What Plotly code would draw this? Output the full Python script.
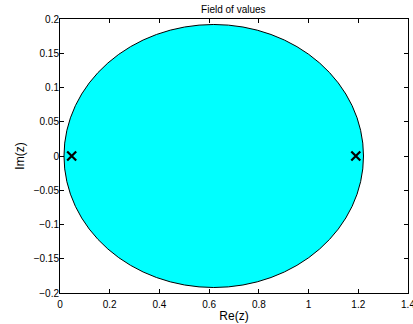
import plotly.graph_objects as go

# eigenvalues (marked with x)
eig_re = [0.047, 1.19]
eig_im = [0, 0]

# field of values boundary extents (ellipse)
fov_re = [0.016, 1.221]
fov_im = [-0.192, 0.192]

x_ticks = [0, 0.2, 0.4, 0.6, 0.8, 1, 1.2, 1.4]
x_labels = ["0", "0.2", "0.4", "0.6", "0.8", "1", "1.2", "1.4"]
y_ticks = [-0.2, -0.15, -0.1, -0.05, 0, 0.05, 0.1, 0.15, 0.2]
y_labels = ["\u22120.2", "\u22120.15", "\u22120.1", "\u22120.05", "0", "0.05", "0.1", "0.15", "0.2"]

fig = go.Figure()

fig.add_shape(type="circle", xref="x", yref="y",
              x0=fov_re[0], x1=fov_re[1], y0=fov_im[0], y1=fov_im[1],
              fillcolor="#00FFFF", line=dict(color="black", width=1), layer="below")

fig.add_trace(go.Scatter(
    x=eig_re, y=eig_im, mode="markers",
    marker=dict(symbol="x-thin", size=9, line=dict(color="black", width=2.2)),
    showlegend=False, hoverinfo="skip"))

axis_style = dict(showline=True, linecolor="black", linewidth=1, mirror="ticks",
                  ticks="inside", ticklen=4, tickcolor="black", showgrid=False,
                  zeroline=False, automargin=False, ticklabeloverflow="allow")

fig.update_xaxes(range=[0, 1.4], tickvals=x_ticks, ticktext=x_labels,
                 ticklabelstandoff=2,
                 title=dict(text="Re(z)", standoff=2), **axis_style)
fig.update_yaxes(range=[-0.2, 0.2], tickvals=y_ticks, ticktext=y_labels,
                 ticklabelstandoff=-2,
                 title=dict(text="Im(z)", standoff=6), **axis_style)

fig.update_layout(
    width=413, height=324,
    margin=dict(l=60, r=5, t=19, b=31, autoexpand=False),
    paper_bgcolor="white", plot_bgcolor="white",
    font=dict(family="Liberation Sans, Arial, sans-serif", size=10, color="black"),
    title=dict(text="Field of values", x=0.565, xanchor="center", y=0.972, yanchor="middle",
               font=dict(size=10)),
)

# drop the default 8px body margin so the figure sits at the window's corner
fig.write_html("out.html", config={"displayModeBar": False},
               post_script="document.body.style.margin='0';")
